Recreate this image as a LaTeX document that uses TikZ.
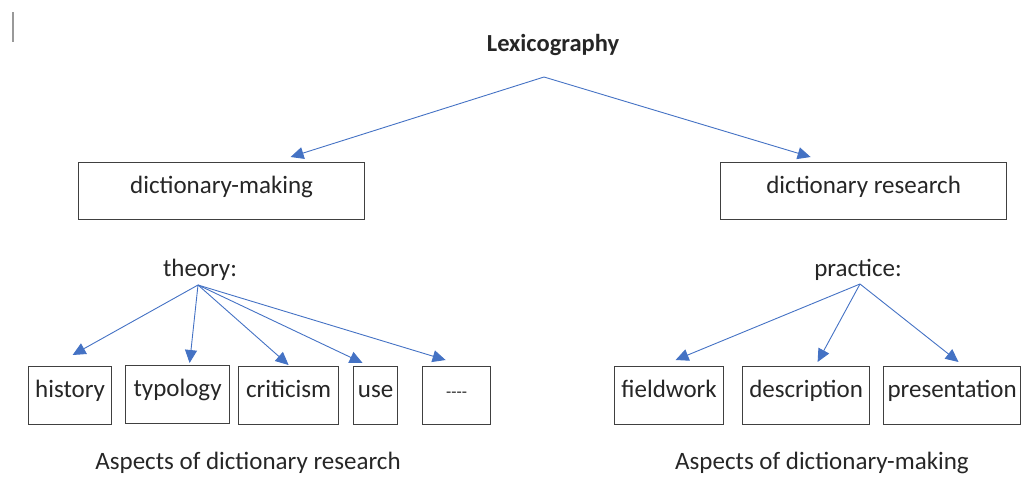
\documentclass[tikz,border=0pt]{standalone}
\usepackage{fontspec}
\setmainfont{Carlito}
\usepackage{xcolor}
\usetikzlibrary{arrows.meta,positioning}
\definecolor{arrowblue}{HTML}{4472C4}
\definecolor{dashgray}{HTML}{8A97B5}
\tikzset{
  box/.style={draw=black!75, line width=1.2pt, inner xsep=0pt, inner ysep=0pt, anchor=north west, align=center},
  topbox/.style={box, minimum width=286pt, text height=31pt, text depth=26pt},
  leaf/.style={box, text height=31pt, text depth=27pt},
  arr/.style={-{Triangle[length=13pt,width=12pt]}, line width=0.9pt, arrowblue},
}
\begin{document}
\begin{tikzpicture}[x=1pt, y=-1pt, font=\fontsize{25}{30}\selectfont, text=black!85]
\useasboundingbox (0,0) rectangle (1027,477);
\draw[gray!80, line width=1.5pt] (13,12) -- (13,42);
% top level
\node[font=\fontsize{24.5}{29}\selectfont\bfseries] (lex) at (553,45) {Lexicography};
\node[topbox] (making) at (78,162) {dictionary-making};
\node[topbox] (research) at (720,162) {dictionary research};
\draw[arr] ([xshift=-9pt, yshift=-32pt]lex.center) -- ([xshift=69pt, yshift=5pt]making.north);
\draw[arr] ([xshift=-9pt, yshift=-32pt]lex.center) -- ([xshift=-53pt, yshift=5pt]research.north);
% left branch
\node (theory) at (200,270) {theory:};
\node[leaf, minimum width=83pt] (history) at (28,366) {history};
\node[leaf, minimum width=104pt] (typology) at (125,365) {typology};
\node[leaf, minimum width=100pt] (criticism) at (238,366) {criticism};
\node[leaf, minimum width=44pt] (use) at (353,366) {use};
\node[leaf, minimum width=68pt, font=\fontsize{17}{20}\selectfont\color{dashgray}] (more) at (422,366) {-{}-{}-{}-};
\draw[arr] ([xshift=-2pt, yshift=-15pt]theory.center) -- ([xshift=2.5pt, yshift=11pt]history.north);
\draw[arr] ([xshift=-2pt, yshift=-15pt]theory.center) -- ([xshift=12pt, yshift=2pt]typology.north);
\draw[arr] ([xshift=-2pt, yshift=-15pt]theory.center) -- ([xshift=0pt, yshift=1pt]criticism.north);
\draw[arr] ([xshift=-2pt, yshift=-15pt]theory.center) -- ([xshift=-13pt, yshift=3pt]use.north);
\draw[arr] ([xshift=-2pt, yshift=-15pt]theory.center) -- ([xshift=-11pt, yshift=6pt]more.north);
\node (research-aspects) at (248,463) {Aspects of dictionary research};
% right branch
\node (practice) at (858,270) {practice:};
\node[leaf, minimum width=109pt] (fieldwork) at (614,366) {fieldwork};
\node[leaf, minimum width=127pt] (description) at (742,366) {description};
\node[leaf, minimum width=137pt] (presentation) at (883,366) {presentation};
\draw[arr] ([xshift=2pt, yshift=-14pt]practice.center) -- ([xshift=6.5pt, yshift=6pt]fieldwork.north);
\draw[arr] ([xshift=2pt, yshift=-14pt]practice.center) -- ([xshift=11.5pt, yshift=4pt]description.north);
\draw[arr] ([xshift=2pt, yshift=-14pt]practice.center) -- ([xshift=6.5pt, yshift=4pt]presentation.north);
\node (making-aspects) at (822,463) {Aspects of dictionary-making};
\end{tikzpicture}
\end{document}
